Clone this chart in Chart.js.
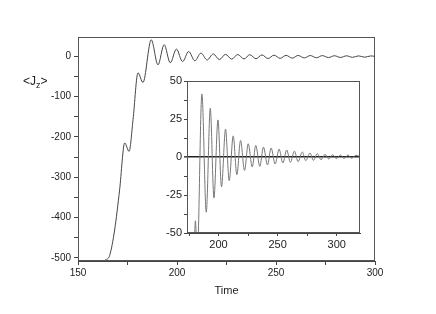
<!DOCTYPE html>
<html lang="en">
<head>
<meta charset="UTF-8">
<title>Jz vs Time</title>
<script src="https://cdn.jsdelivr.net/npm/chart.js@4.4.1/dist/chart.umd.min.js"></script>
<style>
  body { margin: 0; background: #fff; font-family: "Liberation Sans", Arial, sans-serif; }
  #wrap { position: relative; width: 436px; height: 314px; }
  #mainChart { position: absolute; left: 0; top: 0; }
  #insetChart { position: absolute; left: 150px; top: 70px; }
  #ylab { position: absolute; left: 23px; top: 74px; font-size: 12px; color: #222; }
  #ylab sub { font-size: 9px; }
</style>
</head>
<body>
<div id="wrap">
  <canvas id="mainChart" width="436" height="314"></canvas>
  <canvas id="insetChart" width="220" height="185"></canvas>
  <div id="ylab">&lt;J<sub>z</sub>&gt;</div>
</div>
<script>
// main panel: rise then damped oscillation
const mainTime = [150, 162, 164, 166, 168.5, 171, 173.6, 175.8, 177.8, 180.3, 182.8,
  187.0, 190.4, 193.5, 196.6, 199.7, 202.8, 205.9, 209.0, 212.1, 215.2, 218.3, 221.4,
  224.5, 227.6, 230.7, 233.8, 236.8, 239.9, 242.9, 246.0, 249.0, 252.1, 255.1, 258.2,
  261.2, 264.3, 267.3, 270.4, 273.4, 276.5, 279.5, 282.6, 285.6, 288.7, 291.7, 294.8,
  297.8, 300];
const mainJz = [-508, -508, -505, -494, -431, -332, -215, -236, -157, -41, -65,
  41, -21, 29, -16, 18, -13, 12, -11, 8, -9, 6, -8,
  5, -7, 4.5, -6.5, 4, -6, 3.5, -5.5, 3, -5, 2.5, -4.5,
  2.2, -4, 2, -3.5, 1.8, -3, 1.5, -2.8, 1.3, -2.5, 1.2, -2.2,
  1, 0];

// inset: zoom on the oscillation
const insetTime = [179.6, 180.4, 182.0, 185.9, 189.6, 193.0, 196.1, 199.5, 202.5, 205.9,
  209.0, 212.4, 215.5, 218.6, 222.0, 225.1, 228.5, 231.5, 234.9, 238.0, 241.4, 244.5,
  247.9, 251.2, 254.4, 257.7, 260.8, 264.2, 267.3, 270.9, 273.8, 277.4, 280.3, 283.6,
  286.7, 290.1, 293.2, 296.6, 299.7, 303.1, 306.2, 309.5, 312.6, 316.0, 319.7];
const insetJz = [-56, -42, -66, 41.5, -36.3, 32.1, -26.9, 24.4, -19.6, 18.3,
  -15.5, 13.9, -11.6, 10.9, -8.8, 8.7, -6.5, 7.6, -6.2, 6.5, -5.2, 5.9,
  -4.6, 5.2, -3.9, 4.6, -3.5, 3.9, -3.1, 3.3, -2.4, 2.6, -2.2, 2.2,
  -1.8, 1.7, -1.3, 1.5, -1.1, 1.3, -0.9, 1.3, -0.9, 1.1, 0.4];

const mainTicksX = [150, 200, 250, 300];
const mainTicksY = [-500, -400, -300, -200, -100, 0];

function toPoints(xs, ys) {
  return xs.map((x, i) => ({ x: x, y: ys[i] }));
}

// box around the plot area
const frame = {
  id: 'frame',
  afterDraw(chart) {
    const a = chart.chartArea, c = chart.ctx;
    c.save();
    c.strokeStyle = '#555';
    c.lineWidth = 1;
    c.strokeRect(Math.round(a.left) + 0.5, Math.round(a.top) + 0.5,
      Math.round(a.right - a.left) - 1, Math.round(a.bottom - a.top) - 1);
    c.restore();
  }
};

const tickFont = { family: '"Liberation Sans", Arial, sans-serif', size: 10 };

new Chart(document.getElementById('mainChart'), {
  type: 'line',
  data: {
    datasets: [{
      data: toPoints(mainTime, mainJz),
      borderColor: '#444',
      borderWidth: 1,
      pointRadius: 0,
      cubicInterpolationMode: 'monotone'
    }]
  },
  options: {
    responsive: false,
    animation: false,
    devicePixelRatio: 1,
    layout: { padding: { left: 0, right: 61, top: 37, bottom: 0 } },
    plugins: { legend: { display: false }, tooltip: { enabled: false } },
    scales: {
      x: {
        type: 'linear', min: 150, max: 300,
        afterFit: s => { s.height = 53; },
        ticks: {
          stepSize: 25, includeBounds: false, maxRotation: 0, autoSkip: false,
          padding: 2, color: '#222', font: tickFont,
          callback: v => mainTicksX.includes(v) ? String(v) : ''
        },
        grid: { drawOnChartArea: false, tickLength: 4, color: '#444' },
        border: { color: '#444' },
        title: { display: true, text: 'Time', color: '#222',
          font: { family: '"Liberation Sans", Arial, sans-serif', size: 11 },
          padding: { top: 0, bottom: 16 } }
      },
      y: {
        min: -508, max: 48,
        afterFit: s => { s.width = 78; },
        ticks: {
          stepSize: 50, includeBounds: false, autoSkip: false,
          padding: 3, color: '#222', font: tickFont,
          callback: v => mainTicksY.includes(v) ? String(v) : ''
        },
        grid: { drawOnChartArea: false, tickLength: 4, color: '#444' },
        border: { color: '#444' }
      }
    }
  },
  plugins: [frame]
});

const insetTicksX = [200, 250, 300];
const insetTicksY = [-50, -25, 0, 25, 50];

new Chart(document.getElementById('insetChart'), {
  type: 'line',
  data: {
    datasets: [{
      data: toPoints(insetTime, insetJz),
      borderColor: '#777',
      borderWidth: 1,
      pointRadius: 0,
      cubicInterpolationMode: 'monotone'
    }]
  },
  options: {
    responsive: false,
    animation: false,
    devicePixelRatio: 1,
    layout: { padding: { left: 0, right: 10, top: 11, bottom: 0 } },
    plugins: { legend: { display: false }, tooltip: { enabled: false } },
    scales: {
      x: {
        type: 'linear', min: 173.3, max: 319.7,
        afterFit: s => { s.height = 22; },
        ticks: {
          stepSize: 25, includeBounds: false, maxRotation: 0, autoSkip: false,
          padding: 2, color: '#222', font: { family: tickFont.family, size: 11 },
          callback: v => insetTicksX.includes(v) ? String(v) : ''
        },
        grid: { drawOnChartArea: false, tickLength: 3, color: '#444' },
        border: { color: '#444' }
      },
      y: {
        min: -50, max: 50,
        afterFit: s => { s.width = 37; },
        ticks: {
          stepSize: 12.5, includeBounds: false, autoSkip: false,
          padding: 2, color: '#222', font: { family: tickFont.family, size: 11 },
          callback: v => insetTicksY.includes(v) ? String(v) : ''
        },
        grid: {
          drawOnChartArea: true, tickLength: 3, tickColor: '#444',
          color: c => (c.tick && c.tick.value === 0) ? '#222' : 'rgba(0,0,0,0)',
          lineWidth: c => (c.tick && c.tick.value === 0) ? 1.6 : 1
        },
        border: { color: '#444' }
      }
    }
  },
  plugins: [frame]
});
</script>
</body>
</html>
